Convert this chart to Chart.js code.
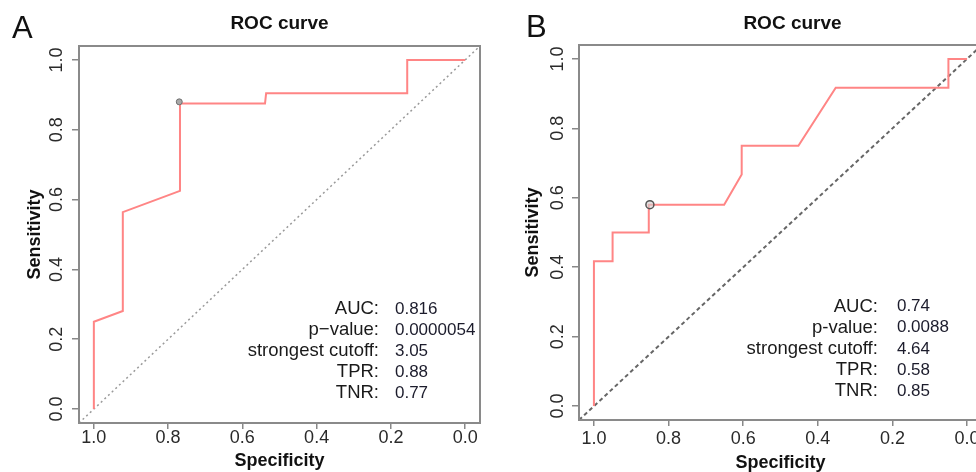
<!DOCTYPE html>
<html><head><meta charset="utf-8">
<script src="https://cdn.jsdelivr.net/npm/chart.js@4.4.1/dist/chart.umd.min.js"></script>
<style>
html,body{margin:0;padding:0;background:#fff;overflow:hidden;width:976px;height:472px;}
#wrapA{position:absolute;left:0;top:0;width:490px;height:472px;}
#wrapB{position:absolute;left:490px;top:0;width:500px;height:472px;}
canvas{display:block;}
</style></head><body>
<div id="wrapA"><canvas id="cA" width="490" height="472"></canvas></div>
<div id="wrapB"><canvas id="cB" width="500" height="472"></canvas></div>
<script>
// ---- data ----
const tickValues = [0, 0.2, 0.4, 0.6, 0.8, 1.0];
const tickLabels = ['0.0', '0.2', '0.4', '0.6', '0.8', '1.0'];
const axisMin = -0.04, axisMax = 1.04;

// Panel A ROC curve (specificity, sensitivity)
const specA = [1.0, 1.0, 0.922, 0.922, 0.768, 0.768, 0.539, 0.536, 0.156, 0.156, 0.0];
const sensA = [0.0, 0.25, 0.281, 0.564, 0.625, 0.875, 0.875, 0.905, 0.905, 1.0, 1.0];
const thrSpecA = 0.77, thrSensA = 0.88;
const statLabelsA = ['AUC:', 'p\u2212value:', 'strongest cutoff:', 'TPR:', 'TNR:'];
const statValuesA = ['0.816', '0.0000054', '3.05', '0.88', '0.77'];

// Panel B ROC curve
const specB = [1.0, 1.0, 0.95, 0.95, 0.853, 0.853, 0.651, 0.604, 0.604, 0.452, 0.352, 0.05, 0.05, 0.0];
const sensB = [0.0, 0.417, 0.417, 0.5, 0.5, 0.58, 0.58, 0.667, 0.75, 0.75, 0.917, 0.917, 1.0, 1.0];
const thrSpecB = 0.85, thrSensB = 0.58;
const statLabelsB = ['AUC:', 'p-value:', 'strongest cutoff:', 'TPR:', 'TNR:'];
const statValuesB = ['0.74', '0.0088', '4.64', '0.58', '0.85'];

const FONT = "'Liberation Sans', Arial, Helvetica, sans-serif";

function tickCb(v) {
  const i = tickValues.findIndex(t => Math.abs(t - v) < 1e-9);
  return i >= 0 ? tickLabels[i] : '';
}
function setTicks(scale) { scale.ticks = tickValues.map(v => ({ value: v })); }

const boxPlugin = {
  id: 'rbox',
  afterDatasetsDraw(chart) {
    const { ctx, chartArea: a } = chart;
    ctx.save();
    ctx.strokeStyle = '#8a8a8a';
    ctx.lineWidth = 2;
    ctx.strokeRect(a.left, a.top, a.right - a.left, a.bottom - a.top);
    ctx.restore();
  }
};

const statPlugin = {
  id: 'stats',
  afterLayout(chart, args, o) {
    const tb = chart.titleBlock;
    if (tb && o.titleShift) { tb.left += o.titleShift; tb.right += o.titleShift; }
  },
  afterDraw(chart, args, o) {
    const { ctx } = chart;
    const xs = chart.scales.x, ys = chart.scales.y;
    ctx.save();
    ctx.textBaseline = 'middle';
    o.labels.forEach((lab, i) => {
      const y = ys.getPixelForValue(o.topY - i * o.stepY);
      ctx.fillStyle = '#1a1a1a';
      ctx.font = '18.5px ' + FONT;
      ctx.textAlign = 'right';
      ctx.fillText(lab, xs.getPixelForValue(o.labelX), y);
      ctx.fillStyle = '#1c1c2c';
      ctx.font = '17px ' + FONT;
      ctx.textAlign = 'left';
      ctx.fillText(o.values[i], xs.getPixelForValue(o.valueX), y);
    });
    ctx.fillStyle = '#111';
    ctx.font = '31px ' + FONT;
    ctx.textAlign = 'left';
    ctx.textBaseline = 'alphabetic';
    ctx.fillText(o.letter, o.letterX, o.letterY);
    ctx.restore();
  }
};

function makePanel(id, p) {
  return new Chart(document.getElementById(id), {
    type: 'line',
    data: {
      datasets: [
        { label: 'threshold', data: [{ x: p.thrSpec, y: p.thrSens }], showLine: false,
          pointRadius: p.ptR, pointBackgroundColor: p.ptFill, pointBorderColor: p.ptStroke,
          pointBorderWidth: p.ptW },
        { label: 'ROC', data: p.spec.map((s, i) => ({ x: s, y: p.sens[i] })),
          borderColor: '#ff8585', borderWidth: 2, pointRadius: 0, tension: 0, fill: false },
        { label: 'chance', data: [{ x: axisMax, y: 1 - axisMax }, { x: axisMin, y: 1 - axisMin }],
          borderColor: p.diagColor, borderWidth: p.diagW, borderDash: p.diagDash,
          pointRadius: 0, fill: false }
      ]
    },
    options: {
      responsive: false, animation: false, devicePixelRatio: 1,
      layout: { padding: { left: p.padL, right: p.padR, top: 0, bottom: 0 } },
      plugins: {
        legend: { display: false }, tooltip: { enabled: false },
        title: { display: true, text: 'ROC curve', fullSize: false, color: '#111',
          font: { family: FONT, size: 19, weight: 'bold', lineHeight: 1.2 },
          padding: { top: 12, bottom: p.titlePadB } },
        stats: { labels: p.statLabels, values: p.statValues, labelX: p.labelX, valueX: p.valueX,
          topY: p.topY, stepY: p.stepY, letter: p.letter, letterX: p.letterX, letterY: p.letterY,
          titleShift: p.titleShift }
      },
      scales: {
        x: {
          type: 'linear', reverse: true, min: axisMin, max: axisMax,
          afterBuildTicks: setTicks,
          afterFit: s => { s.height = p.xH; },
          border: { display: false },
          grid: { drawOnChartArea: false, drawTicks: true, tickLength: 6, color: '#888', lineWidth: 1.5 },
          ticks: { callback: tickCb, color: '#2a2a2a', autoSkip: false, maxRotation: 0, minRotation: 0,
            padding: p.xTickPad, font: { family: FONT, size: 18, lineHeight: 1 } },
          title: { display: true, text: 'Specificity', color: '#111',
            font: { family: FONT, size: 18, weight: 'bold', lineHeight: 1 },
            padding: { top: 0, bottom: p.xTitlePadB } }
        },
        y: {
          type: 'linear', min: axisMin, max: axisMax,
          afterBuildTicks: setTicks,
          afterFit: s => { s.width = p.yW; },
          border: { display: false },
          grid: { drawOnChartArea: false, drawTicks: true, tickLength: 7, color: '#888', lineWidth: 1.5 },
          ticks: { callback: tickCb, color: '#2a2a2a', autoSkip: false, minRotation: 90, maxRotation: 90,
            crossAlign: 'center', padding: p.yTickPad, font: { family: FONT, size: 18, lineHeight: 1 } },
          title: { display: true, text: 'Sensitivity', color: '#111',
            font: { family: FONT, size: 18, weight: 'bold', lineHeight: 1.2 },
            padding: { top: 10, bottom: 0 } }
        }
      }
    },
    plugins: [boxPlugin, statPlugin]
  });
}

makePanel('cA', {
  spec: specA, sens: sensA, thrSpec: thrSpecA, thrSens: thrSensA,
  ptR: 3, ptFill: '#a8a8a8', ptStroke: '#707070', ptW: 1,
  diagColor: '#9a9a9a', diagW: 1.5, diagDash: [2, 3],
  padL: 14, padR: 10, yW: 65, xH: 49, titlePadB: 11.2,
  xTickPad: 0, yTickPad: 2, xTitlePadB: 1.5,
  statLabels: statLabelsA, statValues: statValuesA,
  labelX: 0.232, valueX: 0.189, topY: 0.287, stepY: 0.0605,
  letter: 'A', letterX: 12, letterY: 38, titleShift: 0
});

makePanel('cB', {
  spec: specB, sens: sensB, thrSpec: thrSpecB, thrSens: thrSensB,
  ptR: 4, ptFill: 'rgba(210,210,210,0.6)', ptStroke: '#555', ptW: 1.5,
  diagColor: '#666', diagW: 2, diagDash: [4, 3],
  padL: 22, padR: 8, yW: 67, xH: 52, titlePadB: 10.2,
  xTickPad: 4.5, yTickPad: 1, xTitlePadB: 0,
  statLabels: statLabelsB, statValues: statValuesB,
  labelX: 0.239, valueX: 0.188, topY: 0.287, stepY: 0.061,
  letter: 'B', letterX: 36, letterY: 37, titleShift: 12
});
</script>
</body></html>
